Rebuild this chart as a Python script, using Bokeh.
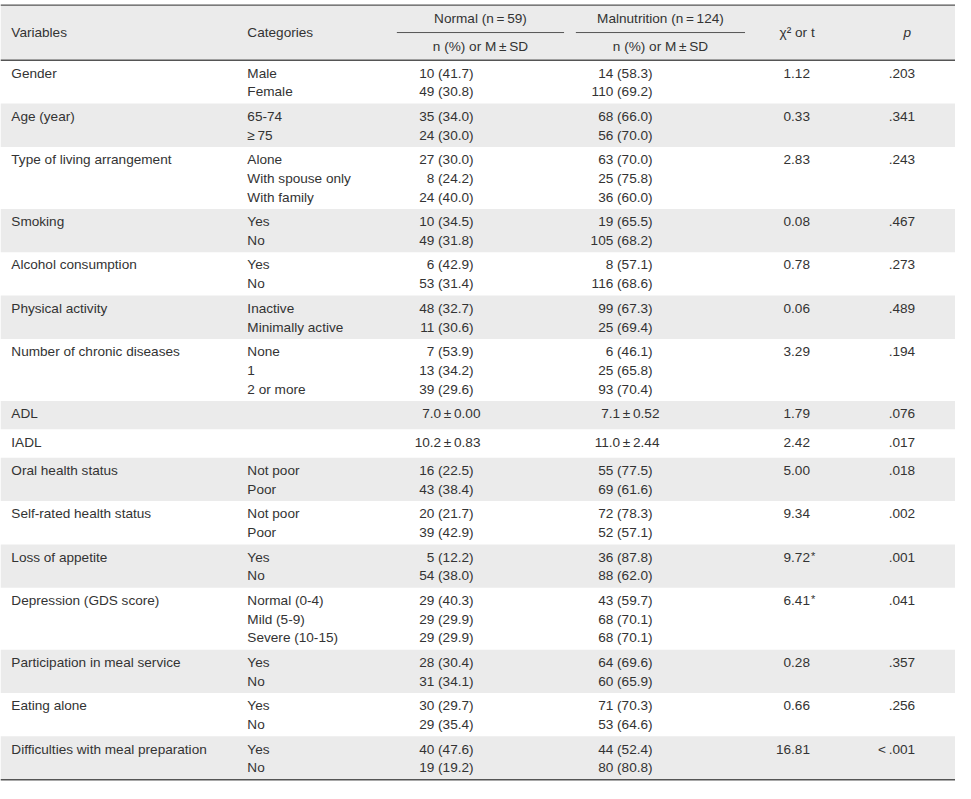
from bokeh.plotting import figure
from bokeh.models import Range1d, ColumnDataSource
from bokeh.embed import file_html
from bokeh.resources import INLINE
from bokeh.core.properties import value

# ---------------- data ----------------
variables = ["Gender", "Age (year)", "Type of living arrangement", "Smoking",
             "Alcohol consumption", "Physical activity", "Number of chronic diseases",
             "ADL", "IADL", "Oral health status", "Self-rated health status",
             "Loss of appetite", "Depression (GDS score)", "Participation in meal service",
             "Eating alone", "Difficulties with meal preparation"]

categories = [["Male", "Female"], ["65\u201074", "\u2265\u200975"],
              ["Alone", "With spouse only", "With family"], ["Yes", "No"], ["Yes", "No"],
              ["Inactive", "Minimally active"], ["None", "1", "2 or more"], [""], [""],
              ["Not poor", "Poor"], ["Not poor", "Poor"], ["Yes", "No"],
              ["Normal (0\u20104)", "Mild (5\u20109)", "Severe (10\u201015)"],
              ["Yes", "No"], ["Yes", "No"], ["Yes", "No"]]

normal = [["10 (41.7)", "49 (30.8)"], ["35 (34.0)", "24 (30.0)"],
          ["27 (30.0)", "8 (24.2)", "24 (40.0)"], ["10 (34.5)", "49 (31.8)"],
          ["6 (42.9)", "53 (31.4)"], ["48 (32.7)", "11 (30.6)"],
          ["7 (53.9)", "13 (34.2)", "39 (29.6)"], ["7.0\u2009\u00b1\u20090.00"],
          ["10.2\u2009\u00b1\u20090.83"], ["16 (22.5)", "43 (38.4)"],
          ["20 (21.7)", "39 (42.9)"], ["5 (12.2)", "54 (38.0)"],
          ["29 (40.3)", "29 (29.9)", "29 (29.9)"], ["28 (30.4)", "31 (34.1)"],
          ["30 (29.7)", "29 (35.4)"], ["40 (47.6)", "19 (19.2)"]]

malnutrition = [["14 (58.3)", "110 (69.2)"], ["68 (66.0)", "56 (70.0)"],
                ["63 (70.0)", "25 (75.8)", "36 (60.0)"], ["19 (65.5)", "105 (68.2)"],
                ["8 (57.1)", "116 (68.6)"], ["99 (67.3)", "25 (69.4)"],
                ["6 (46.1)", "25 (65.8)", "93 (70.4)"], ["7.1\u2009\u00b1\u20090.52"],
                ["11.0\u2009\u00b1\u20092.44"], ["55 (77.5)", "69 (61.6)"],
                ["72 (78.3)", "52 (57.1)"], ["36 (87.8)", "88 (62.0)"],
                ["43 (59.7)", "68 (70.1)", "68 (70.1)"], ["64 (69.6)", "60 (65.9)"],
                ["71 (70.3)", "53 (64.6)"], ["44 (52.4)", "80 (80.8)"]]

stat = ["1.12", "0.33", "2.83", "0.08", "0.78", "0.06", "3.29", "1.79", "2.42",
        "5.00", "9.34", "9.72", "6.41", "0.28", "0.66", "16.81"]
stat_mark = ["", "", "", "", "", "", "", "", "", "", "", "*", "*", "", "", ""]
pvals = [".203", ".341", ".243", ".467", ".273", ".489", ".194", ".076", ".017",
         ".018", ".002", ".001", ".041", ".357", ".256", "<\u2009.001"]

group_headers = ["Normal (n\u2009=\u200959)", "Malnutrition (n\u2009=\u2009124)"]
sub_header = "n (%) or M\u2009\u00b1\u2009SD"

# ---------------- layout ----------------
W, H = 971, 799
FONT = "Liberation Sans"
FS = "13.6px"
TC = "#333333"
GRAY = "#ebebeb"
LINE = "#555555"

p = figure(width=955, height=783, output_backend="svg", toolbar_location=None,
           x_range=Range1d(0, W), y_range=Range1d(H, 0))
p.axis.visible = False
p.grid.visible = False
p.outline_line_color = None
p.min_border = 0
p.background_fill_color = "white"

TOP, HEAD_BOT = 4.7, 61.0
X_VAR, X_CAT = 11, 251
X_N, X_M = 481, 663
PM_SHIFT = 7
X_STAT, X_P = 823, 930
LINE_H = 19.1


def row_height(n):
    return 29.0 if n == 1 else 44.2 + LINE_H * (n - 2)

tops, bots = [], []
y = HEAD_BOT
for cats in categories:
    h = row_height(len(cats))
    tops.append(y)
    bots.append(y + h)
    y += h
BOTTOM = y

# backgrounds
bg_l, bg_r, bg_t, bg_b = [0], [W], [TOP], [HEAD_BOT]
for i in range(len(variables)):
    if i % 2 == 1:
        bg_l.append(0); bg_r.append(W); bg_t.append(tops[i]); bg_b.append(bots[i])
p.quad(left=bg_l, right=bg_r, top=bg_t, bottom=bg_b, fill_color=GRAY, line_color=None)

# rules
p.segment(x0=[0, 0, 0], x1=[W, W, W], y0=[TOP, HEAD_BOT, BOTTOM], y1=[TOP, HEAD_BOT, BOTTOM],
          line_color=LINE, line_width=1.4)
p.segment(x0=[403, 585], x1=[573, 757], y0=[32.7, 32.7], y1=[32.7, 32.7],
          line_color=LINE, line_width=1.0)


def draw_text(xs, ys, texts, align, style="normal", size=FS, color=TC):
    src = ColumnDataSource(dict(x=xs, y=ys, t=texts))
    p.text(x="x", y="y", text="t", source=src, text_font=value(FONT),
           text_font_size=size, text_align=align, text_baseline="middle",
           text_color=color, text_font_style=style)

# header
draw_text([X_VAR, X_CAT], [33, 33], ["Variables", "Categories"], "left")
draw_text([488, 671], [18, 18], group_headers, "center")
draw_text([488, 671], [47, 47], [sub_header, sub_header], "center")
draw_text([810], [33], ["\u03c7\u00b2 or t"], "center")
draw_text([922], [33], ["p"], "center", style="italic")

# body
vx, vy, vt = [], [], []
cx, cy, ct = [], [], []
nx, ny, nt = [], [], []
mx, my, mt = [], [], []
sx, sy, st = [], [], []
ax, ay, at = [], [], []
px, py, pt = [], [], []
for i, var in enumerate(variables):
    y0 = tops[i] + 13
    vx.append(X_VAR); vy.append(y0); vt.append(var)
    for j, c in enumerate(categories[i]):
        yy = y0 + LINE_H * j
        if c:
            cx.append(X_CAT); cy.append(yy); ct.append(c)
        s = normal[i][j]
        nx.append(X_N + (PM_SHIFT if "\u00b1" in s else 0)); ny.append(yy); nt.append(s)
        s = malnutrition[i][j]
        mx.append(X_M + (PM_SHIFT if "\u00b1" in s else 0)); my.append(yy); mt.append(s)
    sx.append(X_STAT); sy.append(y0); st.append(stat[i])
    if stat_mark[i]:
        ax.append(X_STAT + 1); ay.append(y0 - 1); at.append(stat_mark[i])
    px.append(X_P); py.append(y0); pt.append(pvals[i])

draw_text(vx, vy, vt, "left")
draw_text(cx, cy, ct, "left")
draw_text(nx, ny, nt, "right")
draw_text(mx, my, mt, "right")
draw_text(sx, sy, st, "right")
draw_text(ax, ay, at, "left", size="11px")
draw_text(px, py, pt, "right")

open("out.html", "w").write(file_html(p, INLINE))
